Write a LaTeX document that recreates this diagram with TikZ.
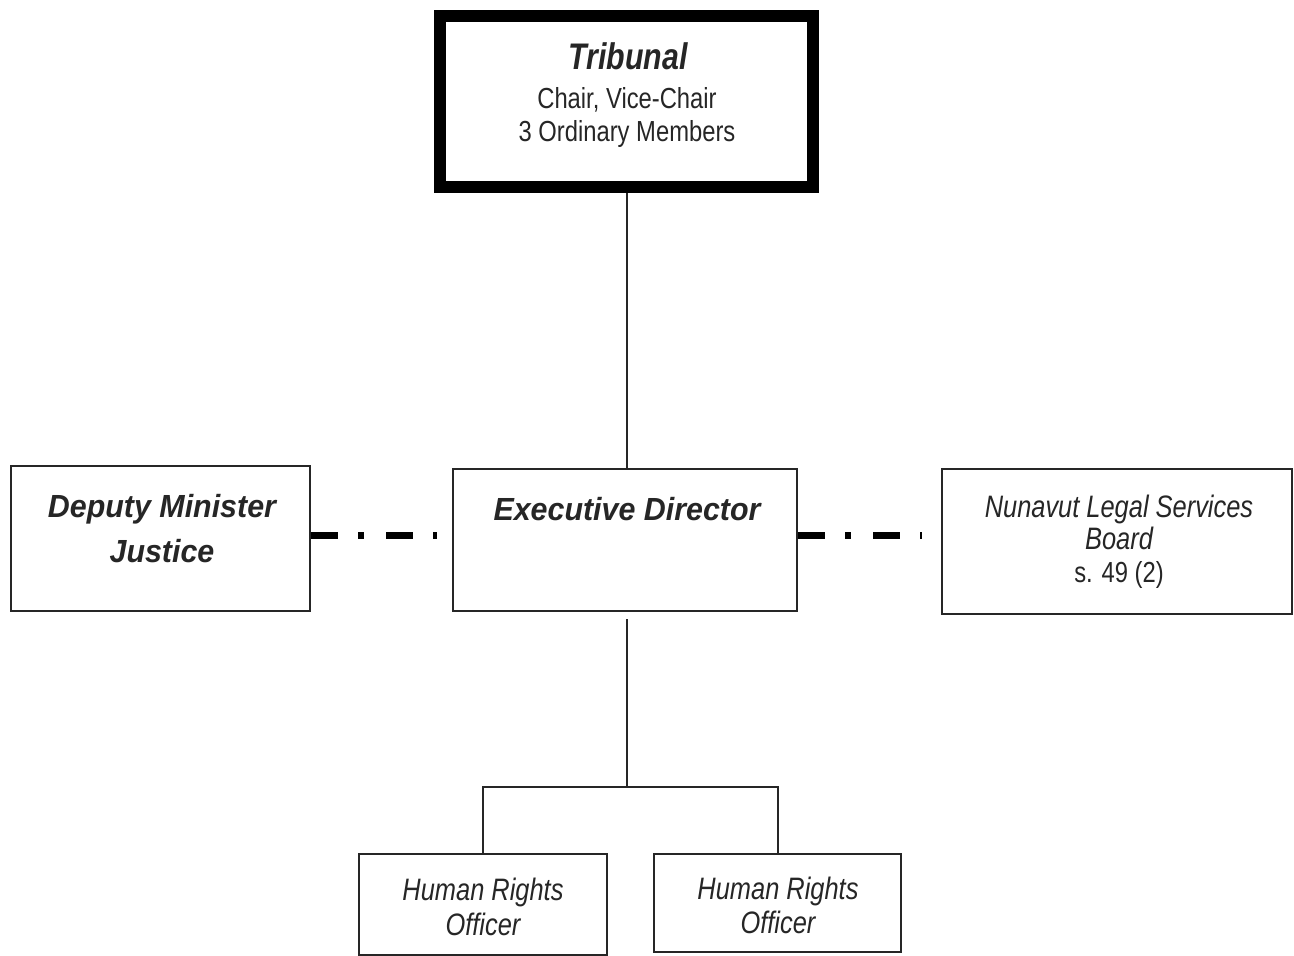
\documentclass[tikz,border=0pt]{standalone}
\usepackage{fontspec}
\setmainfont{Liberation Sans}
\newfontfamily\narrowf[FakeStretch=0.82]{Liberation Sans}
\newfontfamily\widef[FakeStretch=0.95]{Liberation Sans}
\begin{document}
\begin{tikzpicture}[x=1pt,y=-1pt,
  box/.style={draw=black!85, line width=2pt, inner sep=0pt, fill=white},
  thickbox/.style={draw=black, line width=12pt, inner sep=0pt},
  link/.style={draw=black!85, line width=2pt},
  dd/.style={draw=black, line width=7pt, line cap=butt, dash pattern=on 27pt off 20pt on 6pt off 22pt},
  lbl/.style={anchor=base, inner sep=0pt, text=black!85},
  hd/.style={lbl, font=\widef\fontsize{32}{36}\selectfont\bfseries\itshape},
  nt/.style={lbl, font=\narrowf\fontsize{29}{33}\selectfont},
  nti/.style={lbl, font=\narrowf\fontsize{31}{35}\selectfont\itshape}]
\useasboundingbox (0,0) rectangle (1294,956);
\fill[white] (0,0) rectangle (1294,956);
% boxes
\node[thickbox, minimum width=373pt, minimum height=171pt] (trib) at (626.5,101.5) {};
\node[box, minimum width=344pt, minimum height=142pt] (exec) at (625,540) {};
\node[box, minimum width=299pt, minimum height=145pt] (dep) at (160.5,538.5) {};
\node[box, minimum width=350pt, minimum height=145pt] (nun) at (1117,541.5) {};
\node[box, minimum width=248pt, minimum height=101pt] (hro1) at (483,904.5) {};
\node[box, minimum width=247pt, minimum height=98pt] (hro2) at (777.5,903) {};
% texts
\node[lbl, font=\narrowf\fontsize{37}{40}\selectfont\bfseries\itshape] (t1) at (628,69) {Tribunal};
\node[nt] (t2) at (627,108) {Chair, Vice-Chair};
\node[nt] (t3) at (627,141) {3 Ordinary Members};
\node[hd] (d1) at (162,517) {Deputy Minister};
\node[hd] (d2) at (162,562) {Justice};
\node[hd] (e1) at (627,520) {Executive Director};
\node[nti] (n1) at (1119,517) {Nunavut Legal Services};
\node[nti] (n2) at (1119,549) {Board};
\node[nt] (n3) at (1119,582) {s. 49 (2)};
\node[nti] (h1) at (483,900) {Human Rights};
\node[nti] (h2) at (483,935) {Officer};
\node[nti] (h3) at (778,899) {Human Rights};
\node[nti] (h4) at (778,933) {Officer};
% connectors
\coordinate (j) at (627,787);
\coordinate (l1) at (437,535);
\coordinate (r1) at (922,535);
\draw[link] (trib.south -| j) -- (exec.north -| j);
\draw[link] ([yshift=-7pt]exec.south -| j) -- (j);
\draw[link] (hro1.north) |- (j) -| (hro2.north);
\draw[dd] (dep.east |- l1) -- (l1);
\draw[dd] (exec.east |- r1) -- (r1);
\end{tikzpicture}
\end{document}
